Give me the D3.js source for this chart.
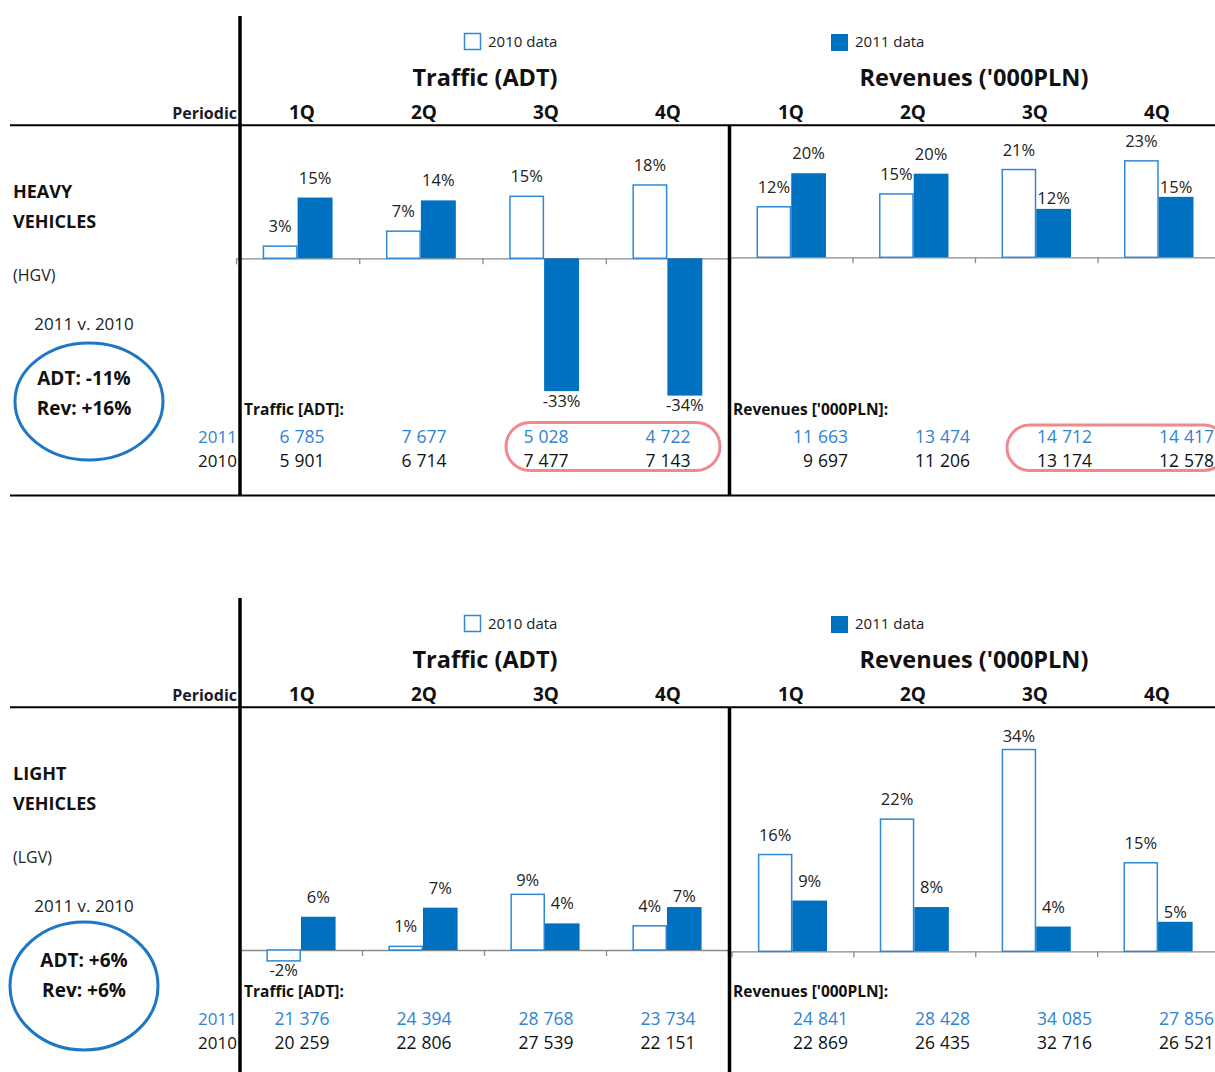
<!DOCTYPE html>
<html>
<head>
<meta charset="utf-8">
<script src="https://cdn.jsdelivr.net/npm/d3@7"></script>
<style>
  body { margin: 0; background: #fff; }
  text { font-family: "Open Sans", sans-serif; }
</style>
</head>
<body>
<svg id="chart" width="1215" height="1072"></svg>
<script>
// ---- data ----
const quarters = ["1Q", "2Q", "3Q", "4Q"];
const years = ["2010", "2011"];
const legendLabels = ["2010 data", "2011 data"];

// heavy vehicles: % change y/y (bars) and quarterly figures (table)
const hgvAdtGrowth2010 = [3.0, 6.7, 15.3, 18.1];
const hgvAdtGrowth2011 = [15.0, 14.3, -32.8, -33.9];
const hgvRevGrowth2010 = [12.2, 15.3, 21.2, 23.3];
const hgvRevGrowth2011 = [20.3, 20.2, 11.7, 14.6];
const hgvAdt2011 = [6785, 7677, 5028, 4722];
const hgvAdt2010 = [5901, 6714, 7477, 7143];
const hgvRev2011 = [11663, 13474, 14712, 14417];
const hgvRev2010 = [9697, 11206, 13174, 12578];
const hgvSummary = ["ADT: -11%", "Rev: +16%"];

// light vehicles
const lgvAdtGrowth2010 = [-1.8, 0.6, 9.2, 4.0];
const lgvAdtGrowth2011 = [5.5, 7.0, 4.4, 7.1];
const lgvRevGrowth2010 = [16.4, 22.4, 34.2, 15.0];
const lgvRevGrowth2011 = [8.6, 7.5, 4.2, 5.0];
const lgvAdt2011 = [21376, 24394, 28768, 23734];
const lgvAdt2010 = [20259, 22806, 27539, 22151];
const lgvRev2011 = [24841, 28428, 34085, 27856];
const lgvRev2010 = [22869, 26435, 32716, 26521];
const lgvSummary = ["ADT: +6%", "Rev: +6%"];

// ---- style ----
const BLUE = "#0070c0";
const OUTLINE = "#2f88d6";
const TEXT_BLUE = "#2f83d3";
const RING = "#1e77c5";
const PINK = "#f0898c";

const fmt = d3.formatLocale({ decimal: ".", thousands: " ", grouping: [3], currency: ["", ""] }).format(",d");
const pct = v => Math.round(v) + "%";

const svg = d3.select("#chart");

// label nudges (px down) where the original labels were dragged onto the bars
const panels = [
  {
    top: 0, name: ["HEAVY", "VEHICLES"], code: "(HGV)", summary: hgvSummary,
    adt: [hgvAdtGrowth2010, hgvAdtGrowth2011], rev: [hgvRevGrowth2010, hgvRevGrowth2011],
    adtTable: [hgvAdt2011, hgvAdt2010], revTable: [hgvRev2011, hgvRev2010],
    adtX: [236, 729], revX: [730, 1220],
    adtY: [420.3, 136.8], revY: [422.9, 133.1], yDomain: [-40, 30],
    adtNudge: [[0, 0, 0, 0], [0, 0, 0, 0]], revNudge: [[0, 0, 0, 0], [0, 0, 9, 10]],
    ring: { cx: 89, cy: 401.5, rx: 74, ry: 58.5 },
    end: 495, bottomLine: true, highlight: true
  },
  {
    top: 582, name: ["LIGHT", "VEHICLES"], code: "(LGV)", summary: lgvSummary,
    adt: [lgvAdtGrowth2010, lgvAdtGrowth2011], rev: [lgvRevGrowth2010, lgvRevGrowth2011],
    adtTable: [lgvAdt2011, lgvAdt2010], revTable: [lgvRev2011, lgvRev2010],
    adtX: [240, 728], revX: [731.5, 1219],
    adtY: [428.5, 126], revY: [428.3, 133.3], yDomain: [-10, 40],
    adtNudge: [[0, 0, 6, 0], [0, 0, 0, 9]], revNudge: [[0, 0, 6, 0], [0, 0, 0, 10]],
    ring: { cx: 84, cy: 404, rx: 74, ry: 64 },
    end: 490, bottomLine: false, highlight: false
  }
];

panels.forEach(drawPanel);

function drawPanel(p) {
  const g = svg.append("g").attr("transform", `translate(0,${p.top})`);

  // header grid columns
  const headT = d3.scaleBand().domain(quarters).range([241, 729]);
  const headR = d3.scaleBand().domain(quarters).range([730, 1218]);

  // legend
  g.append("rect").attr("x", 464.5).attr("y", 33.5).attr("width", 16).attr("height", 16)
    .attr("fill", "#fff").attr("stroke", OUTLINE).attr("stroke-width", 1.5);
  g.append("text").attr("x", 488).attr("y", 46.5).attr("font-size", 15).attr("fill", "#222").text(legendLabels[0]);
  g.append("rect").attr("x", 831).attr("y", 34).attr("width", 17).attr("height", 17).attr("fill", BLUE);
  g.append("text").attr("x", 855).attr("y", 46.5).attr("font-size", 15).attr("fill", "#222").text(legendLabels[1]);

  // titles
  g.append("text").attr("x", 485).attr("y", 86).attr("text-anchor", "middle")
    .attr("font-size", 23.5).attr("font-weight", "bold").attr("fill", "#111").text("Traffic (ADT)");
  g.append("text").attr("x", 974).attr("y", 86).attr("text-anchor", "middle")
    .attr("font-size", 23.5).attr("font-weight", "bold").attr("fill", "#111").text("Revenues ('000PLN)");

  g.append("text").attr("x", 237).attr("y", 119).attr("text-anchor", "end")
    .attr("font-size", 16).attr("font-weight", "bold").attr("fill", "#1a1a2e").text("Periodic");
  [headT, headR].forEach(h => {
    g.selectAll(null).data(quarters).enter().append("text")
      .attr("x", d => h(d) + h.bandwidth() / 2).attr("y", 119).attr("text-anchor", "middle")
      .attr("font-size", 19).attr("font-weight", "bold").attr("fill", "#111").text(d => d);
  });

  // left side labels
  g.selectAll(null).data(p.name).enter().append("text")
    .attr("x", 13).attr("y", (d, i) => 198 + i * 29.5)
    .attr("font-size", 18).attr("font-weight", "bold").attr("fill", "#111").text(d => d);
  g.append("text").attr("x", 13).attr("y", 281).attr("font-size", 16).attr("fill", "#222").text(p.code);
  g.append("text").attr("x", 84).attr("y", 330).attr("text-anchor", "middle")
    .attr("font-size", 17).attr("fill", "#222").text("2011 v. 2010");
  g.append("ellipse").attr("cx", p.ring.cx).attr("cy", p.ring.cy).attr("rx", p.ring.rx).attr("ry", p.ring.ry)
    .attr("fill", "none").attr("stroke", RING).attr("stroke-width", 3);
  g.selectAll(null).data(p.summary).enter().append("text")
    .attr("x", 84).attr("y", (d, i) => 385 + i * 29.5).attr("text-anchor", "middle")
    .attr("font-size", 19).attr("font-weight", "bold").attr("fill", "#111").text(d => d);

  // two bar charts
  drawBars(g, p.adt, p.adtX, p.adtY, p.yDomain, p.adtNudge);
  drawBars(g, p.rev, p.revX, p.revY, p.yDomain, p.revNudge);

  // tables
  g.append("text").attr("x", 244).attr("y", 415).attr("font-size", 15.5).attr("font-weight", "bold")
    .attr("fill", "#111").text("Traffic [ADT]:");
  g.append("text").attr("x", 733).attr("y", 415).attr("font-size", 15.5).attr("font-weight", "bold")
    .attr("fill", "#111").text("Revenues ['000PLN]:");

  const rowY = [443, 467];
  const rowColor = [TEXT_BLUE, "#111"];
  ["2011", "2010"].forEach((yr, r) => {
    g.append("text").attr("x", 237).attr("y", rowY[r]).attr("text-anchor", "end")
      .attr("font-size", 17).attr("fill", rowColor[r]).text(yr);
    g.selectAll(null).data(p.adtTable[r]).enter().append("text")
      .attr("x", (d, i) => headT(quarters[i]) + headT.bandwidth() / 2).attr("y", rowY[r])
      .attr("text-anchor", "middle").attr("font-size", 17.5).attr("word-spacing", 0.5)
      .attr("fill", rowColor[r]).text(d => fmt(d));
    g.selectAll(null).data(p.revTable[r]).enter().append("text")
      .attr("x", (d, i) => headR(quarters[i]) + headR.bandwidth() - 4).attr("y", rowY[r])
      .attr("text-anchor", "end").attr("font-size", 17.5).attr("word-spacing", 0.5)
      .attr("fill", rowColor[r]).text(d => fmt(d));
  });

  if (p.highlight) {
    g.append("rect").attr("x", headT("3Q") + 21).attr("y", 422.5)
      .attr("width", headT.step() * 2 - 30).attr("height", 48).attr("rx", 24)
      .attr("fill", "none").attr("stroke", PINK).attr("stroke-width", 3);
    g.append("rect").attr("x", headR("3Q") + 33).attr("y", 425)
      .attr("width", headR.step() * 2 - 24).attr("height", 45.5).attr("rx", 23)
      .attr("fill", "none").attr("stroke", PINK).attr("stroke-width", 3);
  }

  // frame lines
  g.append("line").attr("x1", 240).attr("x2", 240).attr("y1", 16).attr("y2", p.end)
    .attr("stroke", "#000").attr("stroke-width", 3.5);
  g.append("line").attr("x1", 729.5).attr("x2", 729.5).attr("y1", 125).attr("y2", p.end)
    .attr("stroke", "#000").attr("stroke-width", 3.5);
  g.append("line").attr("x1", 10).attr("x2", 1215).attr("y1", 125.3).attr("y2", 125.3)
    .attr("stroke", "#000").attr("stroke-width", 2);
  if (p.bottomLine) {
    g.append("line").attr("x1", 10).attr("x2", 1215).attr("y1", 495.5).attr("y2", 495.5)
      .attr("stroke", "#000").attr("stroke-width", 2);
  }
}

function drawBars(g, series, xRange, yRange, yDomain, nudge) {
  const x = d3.scaleBand().domain(quarters).range(xRange).paddingInner(0.433).paddingOuter(0.2165);
  const xs = d3.scaleBand().domain(years).range([0, x.bandwidth()]);
  const y = d3.scaleLinear().domain(yDomain).range(yRange);
  const edges = d3.scaleLinear().domain([0, quarters.length]).range(xRange);

  // category axis at zero
  const ax = g.append("g").attr("transform", `translate(0,${y(0)})`)
    .call(d3.axisBottom(edges).tickValues(d3.range(quarters.length + 1)).tickSize(6).tickSizeOuter(0).tickFormat(""));
  ax.selectAll("path,line").attr("stroke", "#8a8a8a").attr("stroke-width", 1.3);

  const rows = [];
  series.forEach((vals, s) => vals.forEach((v, i) => rows.push({ s, i, q: quarters[i], v })));

  g.selectAll(null).data(rows).enter().append("rect")
    .attr("x", d => x(d.q) + xs(years[d.s]) + (d.s === 0 ? 0.75 : 0))
    .attr("width", d => xs.bandwidth() - (d.s === 0 ? 1.5 : 0))
    .attr("y", d => Math.min(y(d.v), y(0)))
    .attr("height", d => Math.abs(y(d.v) - y(0)))
    .attr("fill", d => d.s === 0 ? "#fff" : BLUE)
    .attr("stroke", d => d.s === 0 ? OUTLINE : "none")
    .attr("stroke-width", 1.5);

  g.selectAll(null).data(rows).enter().append("text")
    .attr("x", d => x(d.q) + xs(years[d.s]) + xs.bandwidth() / 2)
    .attr("y", d => (d.v >= 0 ? y(d.v) - 14 : y(d.v) + 15.5) + nudge[d.s][d.i])
    .attr("text-anchor", "middle").attr("font-size", 16.5).attr("fill", "#222")
    .text(d => pct(d.v));
}
</script>
</body>
</html>
